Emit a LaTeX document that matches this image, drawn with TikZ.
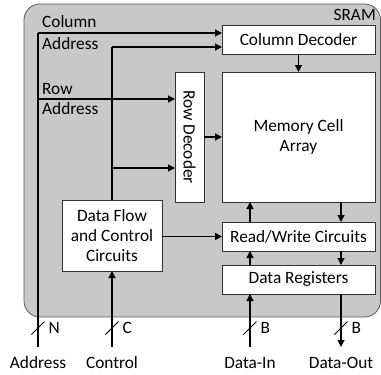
\documentclass[tikz,border=0pt]{standalone}
\usepackage{fontspec}
\setmainfont{Carlito}
\usetikzlibrary{arrows.meta}
\definecolor{chipfill}{RGB}{200,200,200}
\definecolor{chipedge}{RGB}{90,90,90}
\begin{document}
\begin{tikzpicture}[x=1pt,y=-1pt,
  font=\fontsize{17.3}{20}\selectfont,
  blk/.style={draw=black!80,fill=white,line width=0.8pt,inner sep=0pt,outer sep=0pt},
  wire/.style={line width=1.2pt},
  arr/.style={wire,-{Triangle[length=7pt,width=7pt]}},
  lbl/.style={inner sep=0pt,anchor=west},
  busmark/.style={line width=0.9pt}]
\useasboundingbox (0,0) rectangle (381,375);

% chip outline
\draw[fill=chipfill,draw=chipedge,line width=0.8pt,rounded corners=16pt]
  (24,4) rectangle (380.5,317);
\node[anchor=east,inner sep=0pt] (sram) at (376,15) {SRAM};

% blocks
\node[blk,minimum width=153pt,minimum height=29pt] (cdec) at (298.5,39.5) {Column Decoder};
\node[blk,minimum width=153pt,minimum height=130pt,align=center] (mem) at (298.5,137) {Memory Cell\\[0pt]Array};
\node[blk,minimum width=29pt,minimum height=130pt] (rdec) at (189.5,137) {};
\node[rotate=-90,inner sep=0pt] (rdtxt) at (rdec.center) {Row Decoder};
\node[blk,minimum width=100pt,minimum height=71pt,align=center] (dfc) at (112,235.5)
  {Data Flow\\[0pt]and Control\\[0pt]Circuits};
\node[blk,minimum width=153pt,minimum height=29pt] (rw) at (298.5,236.5) {Read/Write Circuits};
\node[blk,minimum width=153pt,minimum height=29pt] (dreg) at (298.5,279.5) {Data Registers};

% external pins
\coordinate (addrin) at (38,347);
\coordinate (ctrlin) at (112,347);
\coordinate (din) at (250,347);
\coordinate (dout) at (341,347);
\node[inner sep=0pt] (laddr) at (38,363) {Address};
\node[inner sep=0pt] (lctrl) at (112,363) {Control};
\node[inner sep=0pt] (ldin) at (250,363) {Data-In};
\node[inner sep=0pt] (ldout) at (341,363) {Data-Out};

% address bus
\coordinate (atop) at (38,33);
\coordinate (arow) at (38,99);
\draw[wire] (addrin) -- (atop);
\draw[arr] (atop) -- (atop -| cdec.west);
\draw[arr] (arow) -- (arow -| rdec.west);
\node[lbl] (tcol) at (42,22) {Column};
\node[lbl] (tcola) at (42,44) {Address};
\node[lbl] (trow) at (42,89) {Row};
\node[lbl] (trowa) at (42,109) {Address};

% control lines from the data flow block
\coordinate (ctop) at (112,47);
\coordinate (crow) at (112,168);
\draw[wire] (dfc.north) -- (ctop);
\draw[arr] (ctop) -- (ctop -| cdec.west);
\draw[arr] (crow) -- (crow -| rdec.west);
\draw[arr] (dfc.east |- rw.west) -- (rw.west);
\draw[arr] (ctrlin) -- (dfc.south);

% decoder to array
\draw[arr] (cdec.south) -- (mem.north);
\draw[arr] (rdec.east) -- (mem.west);

% data paths
\draw[arr] (rw.north -| din) -- (mem.south -| din);
\draw[arr] (mem.south -| dout) -- (rw.north -| dout);
\draw[arr] (dreg.north -| din) -- (rw.south -| din);
\draw[arr] (rw.south -| dout) -- (dreg.north -| dout);
\draw[arr] (din) -- (dreg.south -| din);
\draw[arr] (dreg.south -| dout) -- (dout);

% bus width marks
\foreach \x/\w/\n in {38/N/mN,112/C/mC,250/B/mB,341/B/mD}{
  \draw[busmark] (\x-6.5,334.5) -- (\x+6.5,321.5);
  \node[lbl] (\n) at (\x+10.5,328) {\w};
}
\end{tikzpicture}
\end{document}
